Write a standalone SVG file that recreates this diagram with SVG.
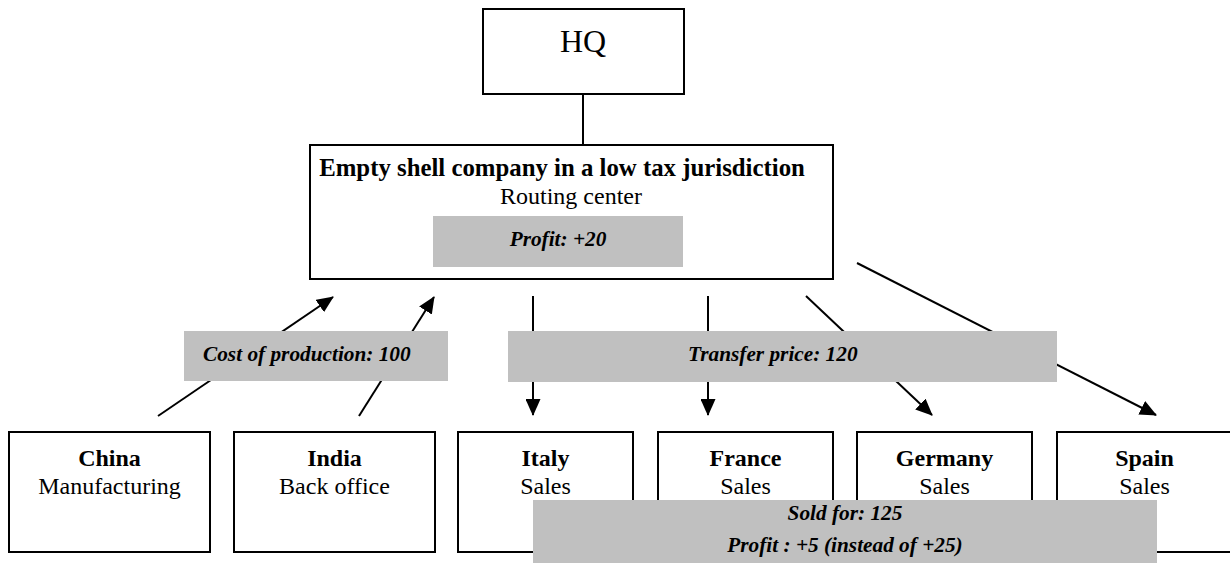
<svg xmlns="http://www.w3.org/2000/svg" width="1230" height="563" viewBox="0 0 1230 563">
<style>
.box{fill:#fff;stroke:#000;stroke-width:2}
.lbl{fill:#c0c0c0;stroke:none}
.t{font-family:"Liberation Serif","Times New Roman",serif;fill:#000}
.r{font-size:24px}
.b{font-size:24px;font-weight:bold}
.bi{font-size:21.3px;font-weight:bold;font-style:italic}
.c{text-anchor:middle}
.ln{stroke:#000;stroke-width:2;fill:none}
</style>
<defs>
<marker id="ah" markerWidth="17" markerHeight="15" refX="16" refY="7.5" orient="auto" markerUnits="userSpaceOnUse">
<path d="M0,0 L17,7.5 L0,15 z" fill="#000"/>
</marker>
</defs>
<rect width="1230" height="563" fill="#fff"/>
<g id="hq">
<rect class="box" x="483" y="9" width="201" height="85"/>
<text class="t c" x="583" y="52" font-size="32">HQ</text>
</g>
<g id="shell">
<rect class="box" x="310" y="145" width="523" height="134"/>
<text class="t b c" x="562" y="176" style="font-size:24.8px">Empty shell company in a low tax jurisdiction</text>
<text class="t r c" x="571" y="204">Routing center</text>
</g>
<g id="china">
<rect class="box" x="9" y="432" width="201" height="120"/>
<text class="t b c" x="109.5" y="466">China</text>
<text class="t r c" x="109.5" y="494">Manufacturing</text>
</g>
<g id="india">
<rect class="box" x="234" y="432" width="201" height="120"/>
<text class="t b c" x="334.5" y="466">India</text>
<text class="t r c" x="334.5" y="494">Back office</text>
</g>
<g id="italy">
<rect class="box" x="458" y="432" width="175" height="120"/>
<text class="t b c" x="545.5" y="466">Italy</text>
<text class="t r c" x="545.5" y="494">Sales</text>
</g>
<g id="france">
<rect class="box" x="658" y="432" width="175" height="120"/>
<text class="t b c" x="745.5" y="466">France</text>
<text class="t r c" x="745.5" y="494">Sales</text>
</g>
<g id="germany">
<rect class="box" x="857" y="432" width="175" height="120"/>
<text class="t b c" x="944.5" y="466">Germany</text>
<text class="t r c" x="944.5" y="494">Sales</text>
</g>
<g id="spain">
<rect class="box" x="1057" y="432" width="180" height="120"/>
<text class="t b c" x="1144.5" y="466">Spain</text>
<text class="t r c" x="1144.5" y="494">Sales</text>
</g>
<g id="connectors">
<line class="ln" x1="583" y1="94" x2="583" y2="145"/>
<line class="ln" x1="158" y1="416" x2="333" y2="297" marker-end="url(#ah)"/>
<line class="ln" x1="359" y1="416" x2="434" y2="297" marker-end="url(#ah)"/>
<line class="ln" x1="533" y1="296" x2="533" y2="415" marker-end="url(#ah)"/>
<line class="ln" x1="708" y1="296" x2="708" y2="415" marker-end="url(#ah)"/>
<line class="ln" x1="806" y1="296" x2="932" y2="415" marker-end="url(#ah)"/>
<line class="ln" x1="857" y1="263" x2="1156" y2="415" marker-end="url(#ah)"/>
</g>
<g id="profit-label">
<rect class="lbl" x="433" y="216" width="250" height="51"/>
<text class="t bi c" x="558" y="246">Profit: +20</text>
</g>
<g id="cost-label">
<rect class="lbl" x="184" y="331" width="264" height="50"/>
<text class="t bi" x="203" y="361">Cost of production: 100</text>
</g>
<g id="transfer-label">
<rect class="lbl" x="508" y="331" width="549" height="51"/>
<text class="t bi" x="688" y="361">Transfer price: 120</text>
</g>
<g id="sold-label">
<rect class="lbl" x="533" y="500" width="624" height="63"/>
<text class="t bi c" x="845" y="520">Sold for: 125</text>
<text class="t bi c" x="845" y="552">Profit : +5 (instead of +25)</text>
</g>
</svg>
